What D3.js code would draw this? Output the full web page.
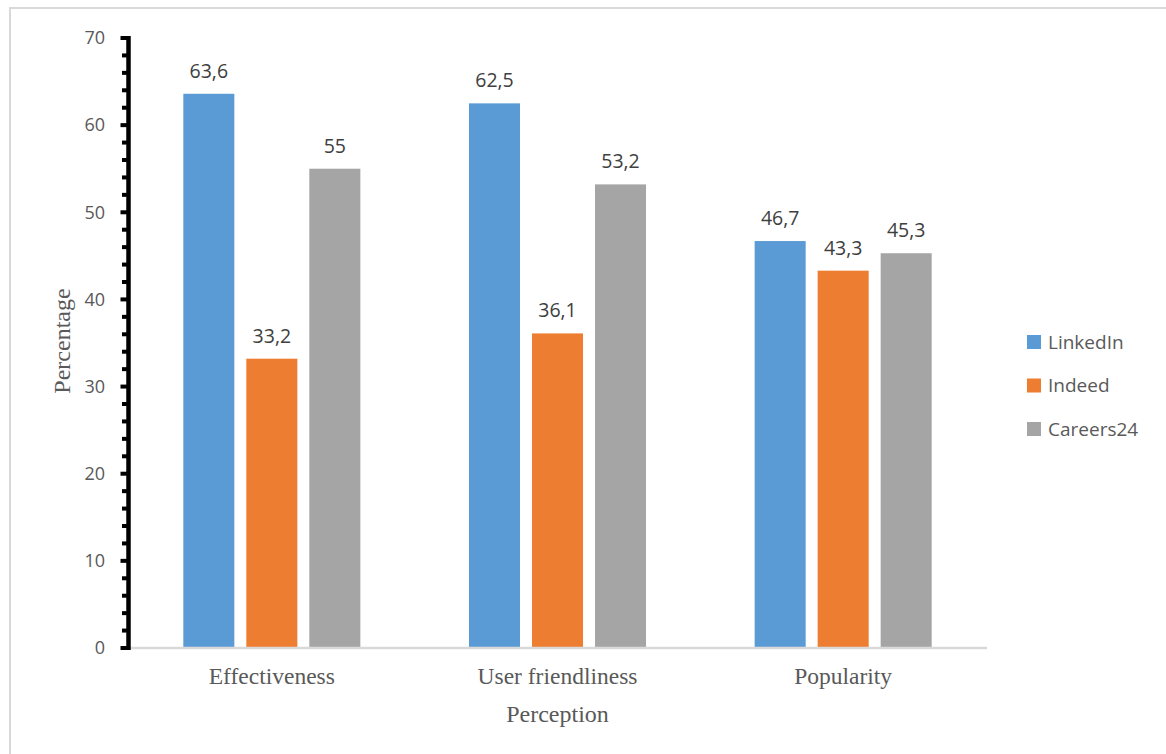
<!DOCTYPE html>
<html>
<head>
<meta charset="utf-8">
<script src="https://cdn.jsdelivr.net/npm/d3@7"></script>
<style>
html,body{margin:0;padding:0;background:#fff;}
svg{display:block;}
</style>
</head>
<body>
<svg id="chart" width="1166" height="754"></svg>
<script>
const categories = ["Effectiveness", "User friendliness", "Popularity"];
const seriesNames = ["LinkedIn", "Indeed", "Careers24"];
const linkedin = [63.6, 62.5, 46.7];
const indeed = [33.2, 36.1, 43.3];
const careers24 = [55, 53.2, 45.3];
const valueLabels = [["63,6", "62,5", "46,7"], ["33,2", "36,1", "43,3"], ["55", "53,2", "45,3"]];
const yTicks = [0, 10, 20, 30, 40, 50, 60, 70];
const colors = ["#5b9bd5", "#ed7d31", "#a5a5a5"];
const seriesValues = [linkedin, indeed, careers24];

const svg = d3.select("#chart");

// outer frame
svg.append("line").attr("x1", 9).attr("x2", 1166).attr("y1", 8).attr("y2", 8)
  .attr("stroke", "#d9d9d9").attr("stroke-width", 2);
svg.append("line").attr("x1", 10).attr("x2", 10).attr("y1", 8).attr("y2", 754)
  .attr("stroke", "#d9d9d9").attr("stroke-width", 2);

const plotLeft = 129, plotRight = 986, plotTop = 38, plotBottom = 648;

const x0 = d3.scaleBand().domain(categories).range([plotLeft, plotRight]).paddingInner(0).paddingOuter(0);
const x1 = d3.scaleBand().domain(seriesNames).range([0, x0.bandwidth()]).paddingInner(0.19).paddingOuter(0.862);
const y = d3.scaleLinear().domain([0, 70]).range([plotBottom, plotTop]);

// bars
const groups = svg.append("g").selectAll("g").data(categories).join("g")
  .attr("transform", d => `translate(${x0(d)},0)`);

seriesNames.forEach((s, si) => {
  groups.append("rect")
    .attr("x", x1(s))
    .attr("width", x1.bandwidth())
    .attr("y", (d, ci) => y(seriesValues[si][ci]))
    .attr("height", (d, ci) => y(0) - y(seriesValues[si][ci]))
    .attr("fill", colors[si]);
  groups.append("text")
    .attr("x", x1(s) + x1.bandwidth() / 2)
    .attr("y", (d, ci) => y(seriesValues[si][ci]) - 16)
    .attr("text-anchor", "middle")
    .attr("font-family", "'Open Sans', sans-serif")
    .attr("font-size", 19.5)
    .attr("fill", "#404040")
    .text((d, ci) => valueLabels[si][ci]);
});

// x axis line
svg.append("line").attr("x1", plotLeft + 1).attr("x2", plotRight + 1)
  .attr("y1", plotBottom).attr("y2", plotBottom)
  .attr("stroke", "#d9d9d9").attr("stroke-width", 2.5);

// category labels
svg.append("g").selectAll("text").data(categories).join("text")
  .attr("x", d => x0(d) + x0.bandwidth() / 2)
  .attr("y", 684)
  .attr("text-anchor", "middle")
  .attr("font-family", "'Liberation Serif', 'Times New Roman', serif")
  .attr("font-size", 23.5)
  .attr("fill", "#595959")
  .text(d => d);

// y axis: thick black line with minor ticks
const axisX = 128.5;
const minorTicks = d3.range(0, 71, 2);
svg.append("g").selectAll("line").data(minorTicks).join("line")
  .attr("x1", d => (d % 10 === 0 ? 120.5 : 122))
  .attr("x2", axisX)
  .attr("y1", d => y(d))
  .attr("y2", d => y(d))
  .attr("stroke", "#000")
  .attr("stroke-width", 4);
svg.append("line").attr("x1", axisX).attr("x2", axisX)
  .attr("y1", y(70) - 2).attr("y2", y(0) + 2)
  .attr("stroke", "#000").attr("stroke-width", 4.5);

// y tick labels
svg.append("g").selectAll("text").data(yTicks).join("text")
  .attr("x", 105)
  .attr("y", d => y(d))
  .attr("dy", "0.35em")
  .attr("text-anchor", "end")
  .attr("font-family", "'Open Sans', sans-serif")
  .attr("font-size", 18)
  .attr("fill", "#595959")
  .text(d => d);

// axis titles
svg.append("text")
  .attr("transform", "translate(70,341) rotate(-90)")
  .attr("text-anchor", "middle")
  .attr("font-family", "'Liberation Serif', 'Times New Roman', serif")
  .attr("font-size", 24)
  .attr("fill", "#595959")
  .text("Percentage");
svg.append("text")
  .attr("x", (plotLeft + plotRight) / 2)
  .attr("y", 722)
  .attr("text-anchor", "middle")
  .attr("font-family", "'Liberation Serif', 'Times New Roman', serif")
  .attr("font-size", 24)
  .attr("fill", "#595959")
  .text("Perception");

// legend
const legend = svg.append("g").selectAll("g").data(seriesNames).join("g")
  .attr("transform", (d, i) => `translate(1027,${342 + i * 43.5})`);
legend.append("rect").attr("x", 0).attr("y", -7).attr("width", 14).attr("height", 14)
  .attr("fill", (d, i) => colors[i]);
legend.append("text").attr("x", 21).attr("y", 0).attr("dy", "0.35em")
  .attr("font-family", "'Open Sans', sans-serif")
  .attr("font-size", 19)
  .attr("fill", "#595959")
  .text(d => d);
</script>
</body>
</html>
